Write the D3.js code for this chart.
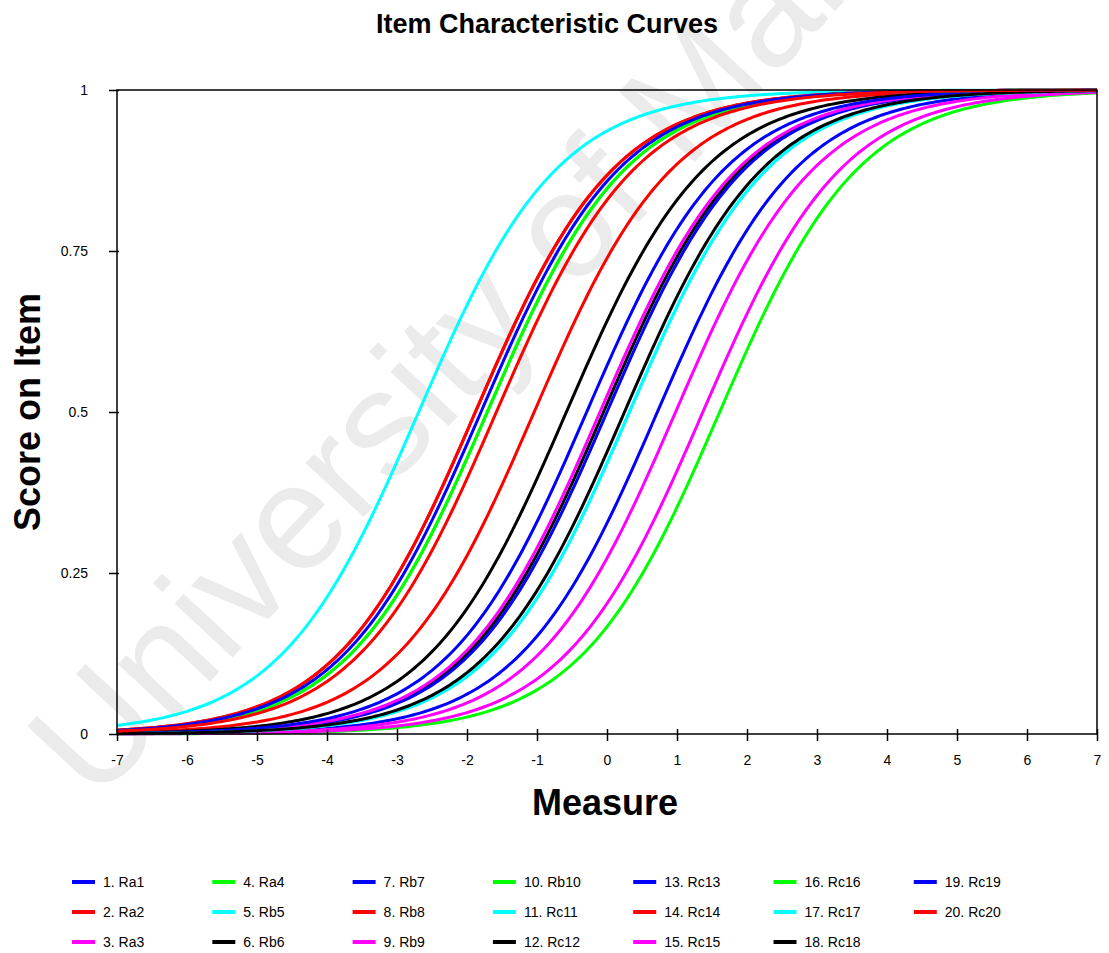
<!DOCTYPE html>
<html>
<head>
<meta charset="utf-8">
<script src="https://cdn.jsdelivr.net/npm/d3@7"></script>
<style>
  body { margin: 0; background: #fff; }
  text { font-family: "Liberation Sans", Arial, sans-serif; }
</style>
</head>
<body>
<svg></svg>
<script>
// item labels, colours and difficulties (logits where the curve crosses 0.5)
var items = ["1. Ra1","2. Ra2","3. Ra3","4. Ra4","5. Rb5","6. Rb6","7. Rb7","8. Rb8","9. Rb9","10. Rb10",
             "11. Rc11","12. Rc12","13. Rc13","14. Rc14","15. Rc15","16. Rc16","17. Rc17","18. Rc18","19. Rc19","20. Rc20"]
var colors = ["#0000ff","#ff0000","#ff00ff","#00ff00","#00ffff","#000000"]
var difficulty = [0.72,-1.88,0.98,-1.71,-2.69,-0.05,0.00,-1.04,-0.10,1.61,
                  0.32,-0.58,-0.29,-1.88,1.37,-1.71,0.32,0.25,-1.80,-1.58]
var xTicks = d3.range(-7,8)
var yTicks = [0,0.25,0.5,0.75,1]

var svg = d3.select("svg").attr("width",1109).attr("height",953)

// watermark
svg.append("text")
   .text("University of Malaya")
   .attr("transform","translate(95,805) rotate(-47)")
   .style("font-size","150px")
   .style("fill","#ebebeb")

var x = d3.scaleLinear().domain([-7,7]).range([117,1097])
var y = d3.scaleLinear().domain([0,1]).range([734,90])

svg.append("text").text("Item Characteristic Curves")
   .attr("x",547).attr("y",33).attr("text-anchor","middle")
   .style("font-size","27px").style("font-weight","bold")

// rasch curves
var line = d3.line().x(d=>x(d[0])).y(d=>y(d[1]))
var grid = d3.range(-7,7.001,0.05)
svg.selectAll("path.icc")
   .data(difficulty)
   .enter()
   .append("path")
   .attr("class","icc")
   .attr("d",b=>line(grid.map(v=>[v,1/(1+Math.exp(-(v-b)))])))
   .attr("fill","none")
   .attr("stroke",(d,i)=>colors[i%6])
   .attr("stroke-width",3)

// frame
svg.append("rect").attr("x",117).attr("y",90).attr("width",980).attr("height",644)
   .attr("fill","none").attr("stroke","#000").attr("stroke-width",1.5)

var xAxis = svg.append("g").attr("transform","translate(0,734)")
   .call(d3.axisBottom(x).tickValues(xTicks).tickSize(12).tickPadding(9).tickFormat(d=>d))
var yAxis = svg.append("g").attr("transform","translate(117,0)")
   .call(d3.axisLeft(y).tickValues(yTicks).tickSize(10).tickPadding(19).tickFormat(d=>d))
xAxis.selectAll(".tick line").attr("transform","translate(0,-5)").attr("stroke-width",1.5)
yAxis.selectAll(".tick line").attr("transform","translate(2,0)").attr("stroke-width",1.5)
xAxis.select(".domain").remove()
yAxis.select(".domain").remove()
svg.selectAll(".tick text").style("font-size","14px").style("font-family","Liberation Sans, Arial, sans-serif")

svg.append("text").text("Measure")
   .attr("x",605).attr("y",815).attr("text-anchor","middle")
   .style("font-size","36px").style("font-weight","bold")
svg.append("text").text("Score on Item")
   .attr("transform","translate(40,412) rotate(-90)").attr("text-anchor","middle")
   .style("font-size","36px").style("font-weight","bold")

// legend, 3 rows x 7 columns
var leg = svg.selectAll("g.leg")
   .data(items)
   .enter()
   .append("g")
   .attr("transform",(d,i)=>"translate("+(72+Math.floor(i/3)*140.3)+","+(882+(i%3)*30)+")")
leg.append("line").attr("x1",0).attr("x2",23).attr("y1",0).attr("y2",0)
   .attr("stroke",(d,i)=>colors[i%6]).attr("stroke-width",4)
leg.append("text").text(d=>d).attr("x",31).attr("y",5)
   .style("font-size","14px")
</script>
</body>
</html>
